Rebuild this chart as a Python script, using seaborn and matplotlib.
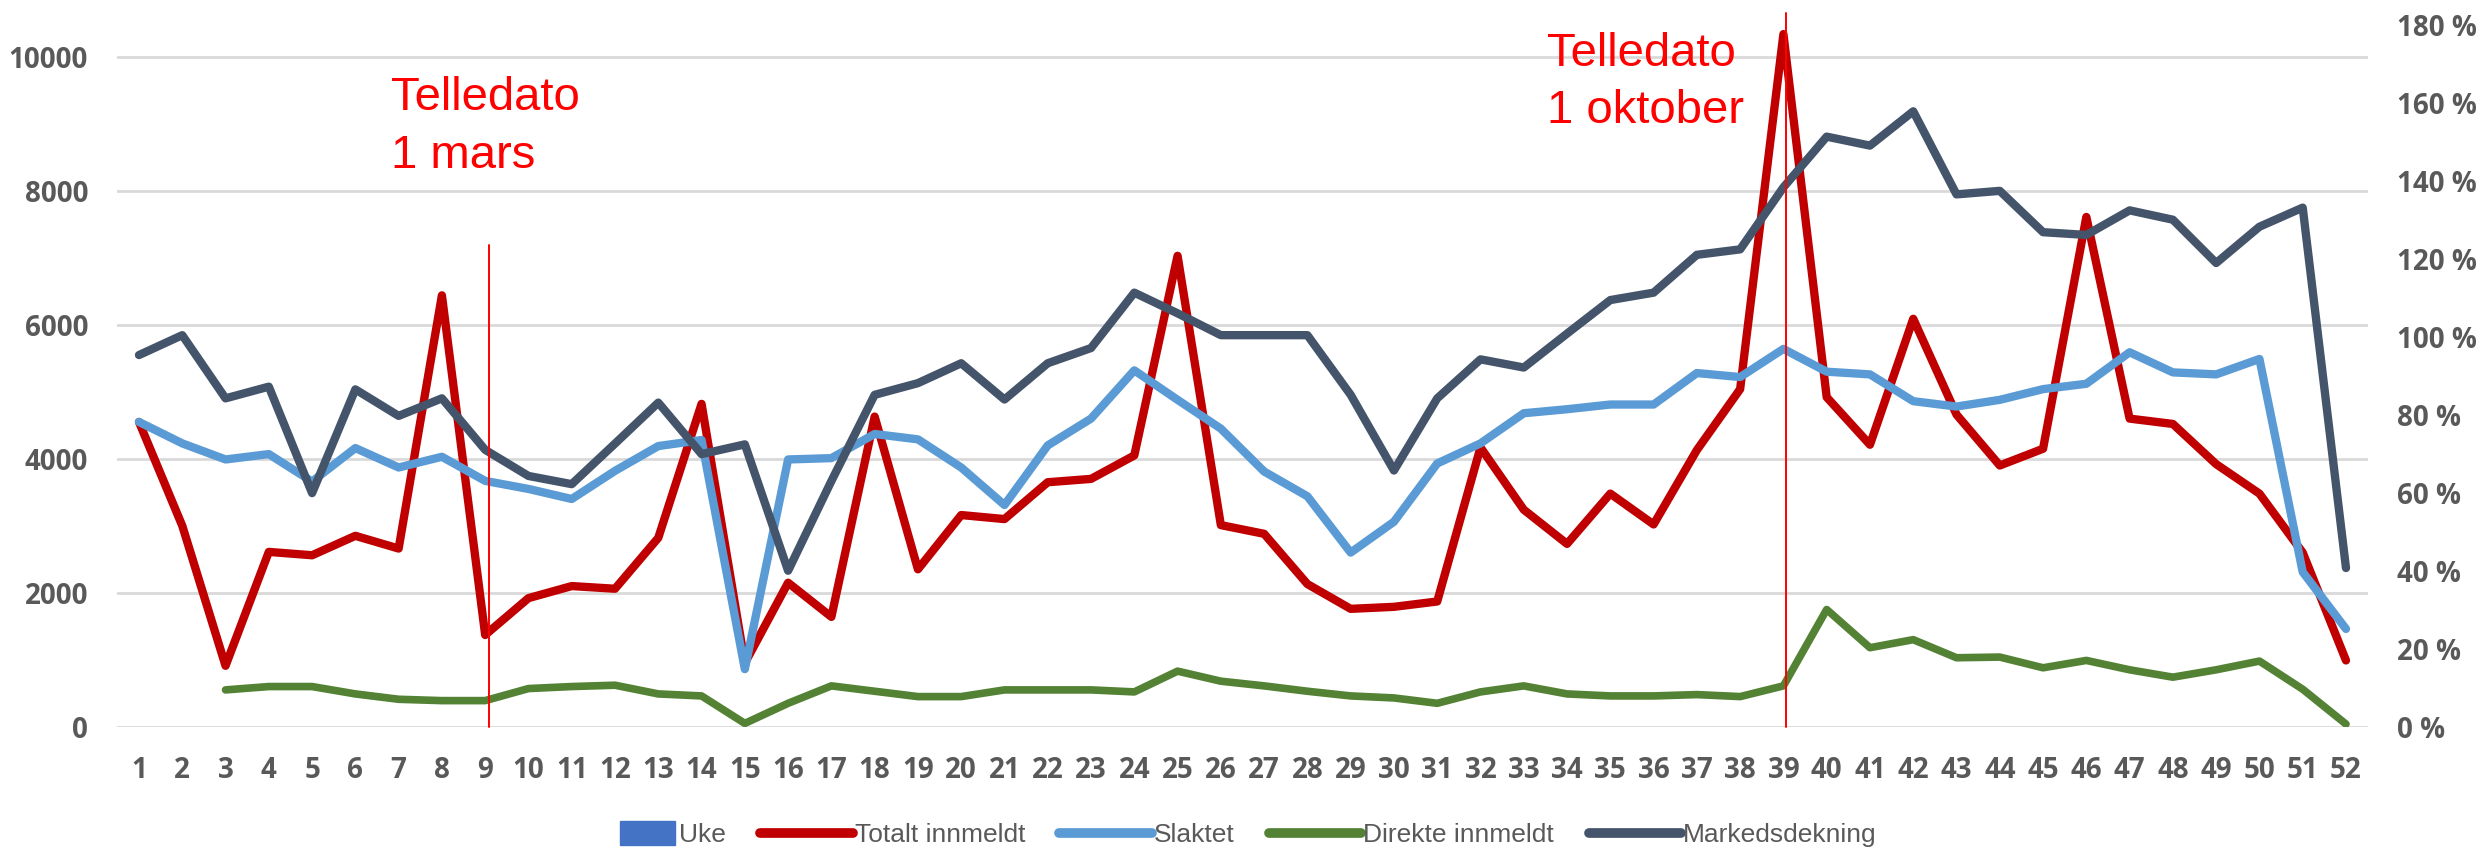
import numpy as np
import pandas as pd
import matplotlib
matplotlib.use("Agg")
import matplotlib.pyplot as plt
from matplotlib.patches import Patch, Rectangle
from matplotlib.lines import Line2D
from matplotlib.legend_handler import HandlerPatch
from matplotlib.ticker import FuncFormatter, MultipleLocator
import seaborn as sns

# --- data ---
uker = list(range(1, 53))
totalt_innmeldt = [4550, 3000, 910, 2610, 2560, 2850, 2660, 6440, 1370, 1920,
                   2100, 2060, 2820, 4820, 950, 2150, 1640, 4630, 2350, 3160,
                   3100, 3650, 3700, 4050, 7030, 3010, 2880, 2130, 1760, 1790,
                   1870, 4170, 3240, 2730, 3480, 3020, 4130, 5040, 10340, 4920,
                   4210, 6090, 4660, 3900, 4150, 7610, 4600, 4520, 3920, 3480,
                   2600, 990]
slaktet = [4550, 4230, 3990, 4070, 3660, 4160, 3870, 4030, 3670, 3550,
           3400, 3820, 4190, 4280, 860, 3990, 4010, 4370, 4290, 3870,
           3310, 4200, 4600, 5320, 4880, 4450, 3810, 3440, 2600, 3060,
           3930, 4230, 4680, 4740, 4810, 4810, 5280, 5220, 5640, 5300,
           5260, 4860, 4780, 4880, 5040, 5120, 5590, 5290, 5260, 5490,
           2310, 1460]
direkte_innmeldt = [np.nan, np.nan, 550, 600, 600, 490, 410, 390, 390, 570,
                    600, 620, 490, 460, 50, 350, 610, 530, 450, 450,
                    550, 550, 550, 520, 830, 680, 610, 530, 460, 430,
                    350, 520, 610, 490, 460, 460, 480, 450, 610, 1750,
                    1180, 1300, 1030, 1040, 880, 990, 850, 740, 850, 980,
                    560, 40]
markedsdekning = [95.3, 100.4, 84.2, 87.2, 59.9, 86.5, 79.7, 84.2, 71.0, 64.3,
                  62.2, 72.6, 83.1, 69.9, 72.4, 40.0, 63.0, 85.1, 88.1, 93.2,
                  83.9, 93.2, 97.1, 111.3, 106.0, 100.4, 100.4, 100.4, 85.1, 65.7,
                  84.2, 94.2, 92.1, 100.8, 109.4, 111.3, 121.0, 122.4, 138.3, 151.3,
                  149.0, 157.8, 136.5, 137.4, 126.8, 126.1, 132.4, 130.0, 118.9, 128.2,
                  133.1, 40.7]

# telledato markers (week, top of the line in left-axis units, label)
telledato_uker = [9.08, 39.05]
telledato_topp = [7190, 10650]
telledato_tekst = ["Telledato\n1 mars", "Telledato\n1 oktober"]
telledato_tekst_pos = [(6.82, 8950), (33.54, 9620)]

df = pd.DataFrame({
    "uke": uker,
    "Totalt innmeldt": totalt_innmeldt,
    "Slaktet": slaktet,
    "Direkte innmeldt": direkte_innmeldt,
    "Markedsdekning": markedsdekning,
})

# --- styling ---
sns.set_theme(style="white")
plt.rcParams["font.family"] = ["Open Sans", "DejaVu Sans"]

C_RED = "#C00000"
C_BLUE = "#5B9BD5"
C_GREEN = "#548235"
C_DARK = "#44546A"
C_UKE = "#4472C4"
C_TXT = "#595959"

fig = plt.figure(figsize=(24.81, 8.49), dpi=100)
ax = fig.add_axes([0.0473, 0.1440, 0.9070, 0.8269])
ax2 = ax.twinx()

line_kw = dict(solid_capstyle="round", solid_joinstyle="round")
sns.lineplot(data=df, x="uke", y="Totalt innmeldt", color=C_RED, lw=6, ax=ax, **line_kw)
sns.lineplot(data=df, x="uke", y="Slaktet", color=C_BLUE, lw=6, ax=ax, **line_kw)
sns.lineplot(data=df.dropna(), x="uke", y="Direkte innmeldt", color=C_GREEN, lw=5.5, ax=ax, **line_kw)
sns.lineplot(data=df, x="uke", y="Markedsdekning", color=C_DARK, lw=6, ax=ax2, **line_kw)

ax.set_xlim(0.5, 52.5)
ax.set_ylim(0, 10480)
ax2.set_ylim(0, 180)
ax.yaxis.set_major_locator(MultipleLocator(2000))
ax2.yaxis.set_major_locator(MultipleLocator(20))
ax2.yaxis.set_major_formatter(FuncFormatter(lambda v, p: f"{v:.0f} %"))
ax.set_xticks(uker)
ax.set_xticklabels([str(u) for u in uker])

ax.grid(axis="y", color="#D9D9D9", lw=2)
ax.grid(axis="x", visible=False)
ax2.grid(False)
for a in (ax, ax2):
    for s in a.spines.values():
        s.set_visible(False)
    a.set_xlabel("")
    a.set_ylabel("")

ax.tick_params(axis="y", length=0, pad=21, labelsize=20, labelcolor=C_TXT)
ax.tick_params(axis="x", length=0, pad=21, labelsize=20, labelcolor=C_TXT)
ax2.tick_params(axis="y", length=0, pad=21, labelsize=20, labelcolor=C_TXT)
for lab in ax.get_xticklabels() + ax.get_yticklabels() + ax2.get_yticklabels():
    lab.set_fontweight("bold")

# telledato lines and labels (on top of the series)
for u, topp in zip(telledato_uker, telledato_topp):
    ax2.plot([u, u], [0, topp], color="#FF0000", lw=1.4, transform=ax.transData,
             clip_on=False, zorder=10)
for (tx, ty), txt in zip(telledato_tekst_pos, telledato_tekst):
    ax2.text(tx, ty, txt, transform=ax.transData, color="#FF0000", fontsize=34,
             family=["Liberation Sans", "DejaVu Sans"], ha="left", va="center",
             linespacing=1.4, zorder=11)


# legend: the "Uke" box is narrower than the line handles
def small_box(legend, orig_handle, xdescent, ydescent, width, height, fontsize):
    w = width * 0.6
    return Rectangle((xdescent + width - w - 0.06 * fontsize, ydescent - 0.15 * height),
                     w, height * 1.3)


handles = [
    Patch(facecolor=C_UKE, edgecolor=C_UKE),
    Line2D([], [], color=C_RED, lw=7, solid_capstyle="round"),
    Line2D([], [], color=C_BLUE, lw=7, solid_capstyle="round"),
    Line2D([], [], color=C_GREEN, lw=7, solid_capstyle="round"),
    Line2D([], [], color=C_DARK, lw=7, solid_capstyle="round"),
]
labels = ["Uke", "Totalt innmeldt", "Slaktet", "Direkte innmeldt", "Markedsdekning"]
leg = fig.legend(handles, labels, loc="center", bbox_to_anchor=(0.496, 0.0165),
                 ncol=5, frameon=False, handlelength=3.5, handleheight=0.7,
                 handletextpad=0.08, columnspacing=1.3,
                 handler_map={Patch: HandlerPatch(patch_func=small_box)},
                 prop={"family": ["Liberation Sans", "DejaVu Sans"], "size": 19})
for t in leg.get_texts():
    t.set_color(C_TXT)

fig.savefig("out.png", dpi=100)
